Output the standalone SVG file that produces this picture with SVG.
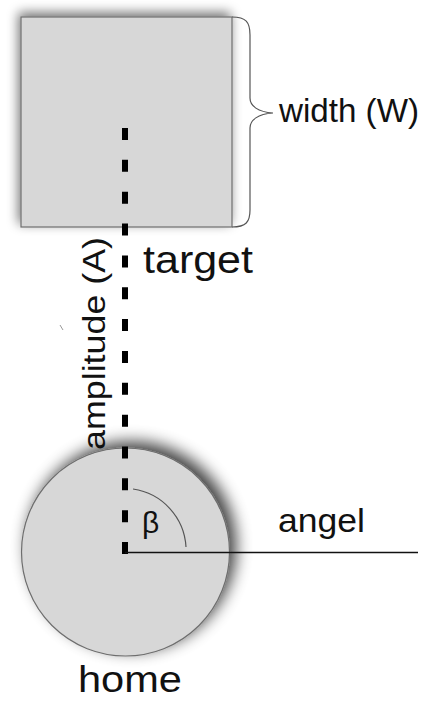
<svg xmlns="http://www.w3.org/2000/svg" width="425" height="701" viewBox="0 0 425 701">
  <style>
    .shape { fill: #d7d7d7; stroke: #6e6e6e; stroke-width: 1.2; }
    .lbl { font-family: "Liberation Sans", Arial, sans-serif; fill: #111; }
    .thin { fill: none; stroke: #555; stroke-width: 1.2; }
  </style>
  <defs>
    <filter id="softShadowRect" x="-20%" y="-20%" width="140%" height="140%">
      <feGaussianBlur in="SourceAlpha" stdDeviation="6"/>
      <feOffset dx="-2" dy="-4" result="b"/>
      <feComponentTransfer><feFuncA type="linear" slope="0.55"/></feComponentTransfer>
      <feMerge><feMergeNode/><feMergeNode in="SourceGraphic"/></feMerge>
    </filter>
    <filter id="softShadowCircle" x="-30%" y="-30%" width="160%" height="160%">
      <feGaussianBlur in="SourceAlpha" stdDeviation="8"/>
      <feOffset dx="6" dy="-6" result="b"/>
      <feComponentTransfer><feFuncA type="linear" slope="0.75"/></feComponentTransfer>
      <feMerge><feMergeNode/><feMergeNode in="SourceGraphic"/></feMerge>
    </filter>
  </defs>

  <!-- target square -->
  <g id="target">
    <rect class="shape" x="21" y="17" width="211" height="210" filter="url(#softShadowRect)"/>
    <text class="lbl" x="143" y="273" font-size="38" textLength="110" lengthAdjust="spacingAndGlyphs">target</text>
  </g>

  <!-- width brace -->
  <g id="width">
    <path class="thin" d="M232,17 C246,17 250,22 250,35 L250,98 C250,106 258,112 273,113 C258,114 250,120 250,128 L250,210 C250,222 246,227 232,227"/>
    <text class="lbl" x="279" y="122" font-size="34" textLength="140" lengthAdjust="spacingAndGlyphs">width (W)</text>
  </g>

  <!-- home circle -->
  <g id="home">
    <circle class="shape" cx="125.5" cy="552" r="104" filter="url(#softShadowCircle)"/>
    <text class="lbl" x="78" y="692" font-size="36" textLength="104" lengthAdjust="spacingAndGlyphs">home</text>
  </g>

  <!-- connectors: amplitude, angle ray, angle arc -->
  <g id="connectors">
    <line x1="125" y1="128" x2="125" y2="555" stroke="#000" stroke-width="6" stroke-dasharray="12 19.85"/>
    <line x1="125" y1="552.5" x2="418" y2="552.5" stroke="#111" stroke-width="1.5"/>
    <path class="thin" d="M133,489 A62,62 0 0 1 186,547"/>
    <line x1="60" y1="325" x2="63" y2="330" stroke="#999" stroke-width="1"/>
  </g>

  <g id="labels">
    <text class="lbl" transform="translate(105,450) rotate(-90)" font-size="31" textLength="213" lengthAdjust="spacingAndGlyphs">amplitude (A)</text>
    <text class="lbl" x="142" y="533" font-size="30">β</text>
    <text class="lbl" x="278" y="532" font-size="33" textLength="87" lengthAdjust="spacingAndGlyphs">angel</text>
  </g>
</svg>
